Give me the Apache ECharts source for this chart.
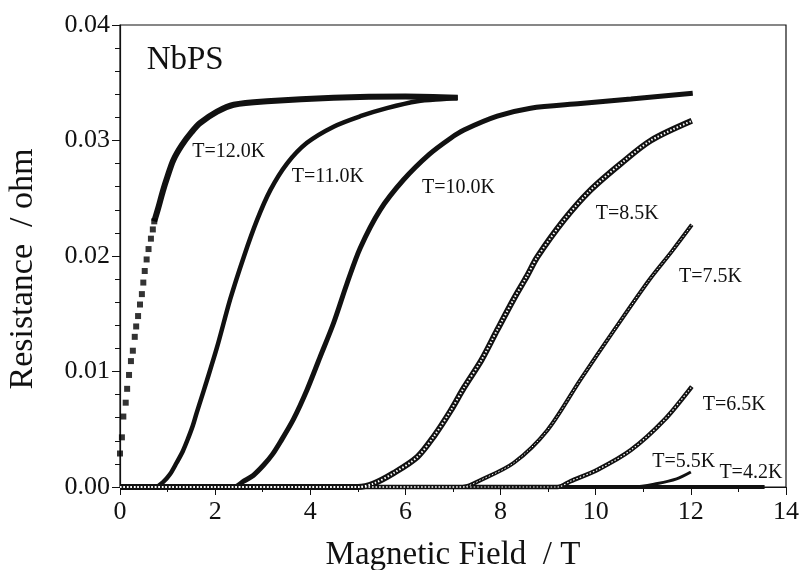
<!DOCTYPE html>
<html>
<head>
<meta charset="utf-8">
<script src="https://cdn.jsdelivr.net/npm/echarts@6/dist/echarts.min.js"></script>
<style>
  html, body { margin: 0; padding: 0; background: #fff; }
  #chart { width: 800px; height: 570px; }
</style>
</head>
<body>
<div id="chart"></div>
<script>
// magnetoresistance curves of NbPS, [field (T), resistance (ohm)]
const t120Sparse = [[0, 0.0029], [0.04, 0.0043], [0.07, 0.0061], [0.12, 0.0073], [0.15, 0.0085],
  [0.19, 0.0097], [0.23, 0.0109], [0.27, 0.0118], [0.31, 0.0130], [0.34, 0.0139], [0.38, 0.0148],
  [0.42, 0.0158], [0.46, 0.0167], [0.49, 0.0177], [0.52, 0.0187], [0.56, 0.0197], [0.60, 0.0206],
  [0.65, 0.0215], [0.69, 0.0223], [0.72, 0.0230]]
const t120 = [[0.72, 0.0230], [0.8, 0.0241], [0.9, 0.0256], [1.0, 0.0269], [1.12, 0.0283], [1.3, 0.0296],
  [1.5, 0.0307], [1.68, 0.0315], [2.04, 0.0325], [2.39, 0.0331], [3.09, 0.0334], [4.49, 0.0337],
  [6.0, 0.0338], [7.1, 0.0337]]
const t110 = [[0, 0], [0.74, 0], [0.9, 0.0004], [1.05, 0.0011], [1.19, 0.0021], [1.32, 0.0031],
  [1.44, 0.0043], [1.53, 0.0053], [1.61, 0.0064], [1.71, 0.0077], [1.81, 0.0090], [2.04, 0.0121],
  [2.32, 0.0163], [2.6, 0.0199], [2.88, 0.0231], [3.16, 0.0257], [3.51, 0.0280], [3.93, 0.0298],
  [4.49, 0.0312], [5.05, 0.0321], [5.61, 0.0328], [6.25, 0.0334], [6.8, 0.0336], [7.1, 0.0337]]
const t100 = [[0, 0], [2.4, 0], [2.6, 0.0005], [2.8, 0.0010], [3.02, 0.0019], [3.2, 0.0028],
  [3.37, 0.0039], [3.65, 0.0059], [3.93, 0.0084], [4.21, 0.0113], [4.49, 0.0142], [4.77, 0.0176],
  [5.05, 0.0207], [5.47, 0.0240], [5.96, 0.0266], [6.5, 0.0288], [6.95, 0.0302], [7.23, 0.0309],
  [7.93, 0.0321], [8.63, 0.0328], [9.68, 0.0332], [10.74, 0.0336], [12.04, 0.0341]]
const t085 = [[0, 0], [5.0, 0], [5.33, 0.0003], [5.75, 0.0012], [6.25, 0.0026], [6.6, 0.0044],
  [6.95, 0.0066], [7.23, 0.0086], [7.6, 0.0110], [7.93, 0.0136], [8.28, 0.0163], [8.56, 0.0183],
  [8.77, 0.0199], [9.33, 0.0231], [9.89, 0.0257], [10.53, 0.0280], [11.16, 0.0300], [12.02, 0.0317]]
const t075 = [[0, 0], [7.2, 0], [7.58, 0.0006], [8.28, 0.0021], [8.98, 0.0049], [9.68, 0.0093],
  [10.39, 0.0136], [11.12, 0.0179], [11.6, 0.0204], [12.02, 0.0227]]
const t065 = [[0, 0], [9.2, 0], [9.47, 0.0005], [10.04, 0.0015], [10.74, 0.0032], [11.44, 0.0058],
  [12.02, 0.0087]]
const t055 = [[0, 0], [10.8, 0], [11.3, 0.0003], [11.7, 0.0007], [12.0, 0.0013]]
const t042 = [[0, 0], [13.55, 0]]

// curve labels, placed in data coordinates (left edge, middle)
const labelText = ['NbPS', 'T=12.0K', 'T=11.0K', 'T=10.0K', 'T=8.5K', 'T=7.5K', 'T=6.5K', 'T=5.5K', 'T=4.2K']
const labelX = [0.56, 1.52, 3.61, 6.35, 10.0, 11.75, 12.25, 11.19, 12.6]
const labelY = [0.0369, 0.0290, 0.0269, 0.0259, 0.0237, 0.0182, 0.0071, 0.0022, 0.0012]

const font = '"Liberation Serif", "DejaVu Serif", serif'
const ink = '#111'

function curve(data, width) {
  return {
    type: 'line', data: data, showSymbol: false, smooth: 0.3, clip: false,
    lineStyle: { color: ink, width: width }, z: 2
  }
}
// hollow markers look: white dotted core on top of a dark band
function core(data, width) {
  return {
    type: 'line', data: data, showSymbol: false, smooth: 0.3, clip: false,
    lineStyle: { color: '#fff', width: width, type: [1.5, 2] }, z: 3
  }
}

const chart = echarts.init(document.getElementById('chart'))
chart.setOption({
  animation: false,
  backgroundColor: '#fff',
  grid: {
    left: 120, right: 14, top: 25, bottom: 83,
    outerBoundsMode: 'none',
    show: true, borderColor: ink, borderWidth: 1.2
  },
  xAxis: {
    type: 'value', min: 0, max: 14, interval: 2,
    name: 'Magnetic Field  / T', nameLocation: 'middle', nameGap: 52,
    nameTextStyle: { fontFamily: font, fontSize: 33, color: ink },
    axisLine: { lineStyle: { color: ink, width: 1.2 } },
    axisTick: { inside: false, length: 8, lineStyle: { color: ink } },
    minorTick: { show: true, splitNumber: 2, length: 5, lineStyle: { color: ink } },
    splitLine: { show: false },
    axisLabel: { fontFamily: font, fontSize: 26, color: ink, margin: 12 }
  },
  yAxis: {
    type: 'value', min: 0, max: 0.04, interval: 0.01,
    name: 'Resistance  / ohm', nameLocation: 'middle', nameGap: 80,
    nameTextStyle: { fontFamily: font, fontSize: 34, color: ink, padding: [0, 26, 0, 0] },
    axisLine: { lineStyle: { color: ink, width: 1.2 } },
    axisTick: { inside: false, length: 8, lineStyle: { color: ink } },
    minorTick: { show: true, splitNumber: 5, length: 5, lineStyle: { color: ink } },
    splitLine: { show: false },
    axisLabel: {
      fontFamily: font, fontSize: 26, color: ink, margin: 10,
      formatter: v => v.toFixed(2)
    }
  },
  series: [
    curve(t042, 4),
    curve(t055, 3),
    curve(t065, 4.5), core(t065, 1.2),
    curve(t075, 4), core(t075, 1),
    curve(t085, 6), core(t085, 2),
    curve(t100, 5),
    curve(t110, 4.5),
    curve(t120, 6),
    {
      type: 'scatter', data: t120Sparse, symbol: 'rect', symbolSize: 6, clip: false,
      itemStyle: { color: '#000' }, z: 2
    },
    {
      type: 'custom',
      data: labelX.map((x, i) => [x, labelY[i]]),
      encode: { x: 0, y: 1 },
      z: 5,
      renderItem: (params, api) => {
        const p = api.coord([api.value(0), api.value(1)])
        const big = params.dataIndex === 0
        return {
          type: 'text', x: p[0], y: p[1],
          style: {
            text: labelText[params.dataIndex],
            fill: ink,
            fontFamily: font,
            fontSize: big ? 33 : 20,
            align: 'left', verticalAlign: 'middle',
            textAlign: 'left', textVerticalAlign: 'middle'
          }
        }
      }
    }
  ]
})
</script>
</body>
</html>
